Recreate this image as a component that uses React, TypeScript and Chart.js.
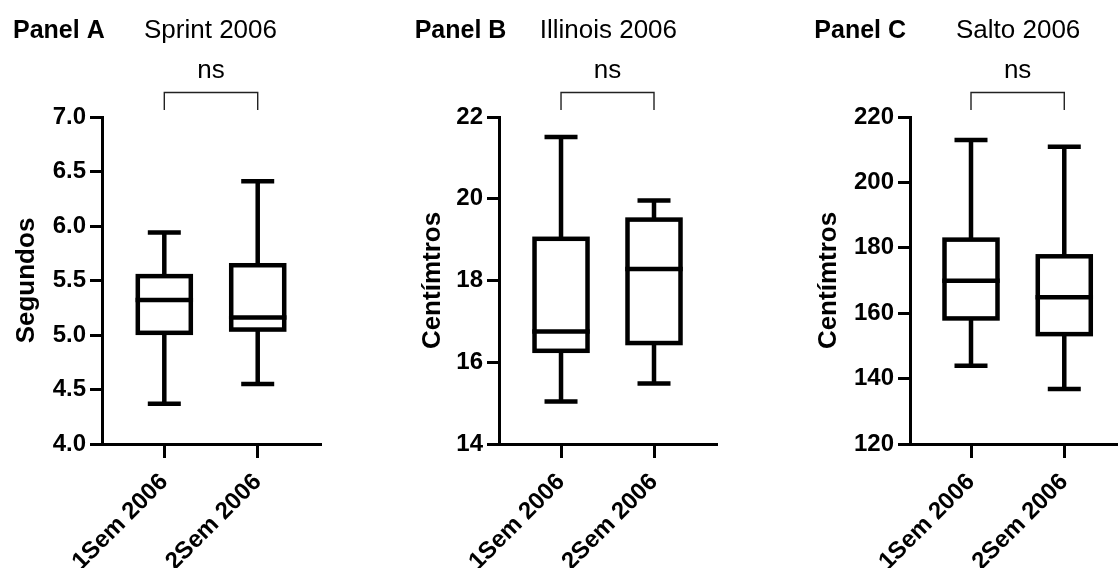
import React, { useEffect, useRef } from 'react';
import { Chart, registerables } from 'chart.js';

Chart.register(...registerables);

const FONT = "'Liberation Sans', Arial, Helvetica, sans-serif";

// ---- data ----
const categories = ['1Sem 2006', '2Sem 2006'];

// Panel A – Sprint 2006 (Segundos)
const sprintMin = [4.37, 4.55];
const sprintQ1 = [5.02, 5.05];
const sprintMedian = [5.32, 5.16];
const sprintQ3 = [5.54, 5.64];
const sprintMax = [5.94, 6.41];
const sprintTicks = [4.0, 4.5, 5.0, 5.5, 6.0, 6.5, 7.0];

// Panel B – Illinois 2006 (Centímtros)
const illinoisMin = [15.04, 15.48];
const illinoisQ1 = [16.28, 16.47];
const illinoisMedian = [16.75, 18.28];
const illinoisQ3 = [19.02, 19.49];
const illinoisMax = [21.51, 19.96];
const illinoisTicks = [14, 16, 18, 20, 22];

// Panel C – Salto 2006 (Centímtros)
const saltoMin = [143.9, 136.8];
const saltoQ1 = [158.4, 153.6];
const saltoMedian = [169.9, 164.9];
const saltoQ3 = [182.5, 177.4];
const saltoMax = [213.0, 210.9];
const saltoTicks = [120, 140, 160, 180, 200, 220];

const significance = 'ns';

type Spec = {
  id: string;
  panelLabel: string;
  title: string;
  yTitle: string;
  min: number[];
  q1: number[];
  median: number[];
  q3: number[];
  max: number[];
  ticks: number[];
  decimals: number;
  // layout
  left: number;
  width: number;
  yAxisWidth: number;
  padRight: number;
  xMin: number;
  xMax: number;
  panelLabelX: number;
  titleX: number;
  yTitleX: number;
};

const panels: Spec[] = [
  {
    id: 'A', panelLabel: 'Panel A', title: 'Sprint 2006', yTitle: 'Segundos',
    min: sprintMin, q1: sprintQ1, median: sprintMedian, q3: sprintQ3, max: sprintMax,
    ticks: sprintTicks, decimals: 1,
    left: 0, width: 373, yAxisWidth: 102, padRight: 51.3, xMin: -0.667, xMax: 1.685,
    panelLabelX: 13, titleX: 144, yTitleX: 34,
  },
  {
    id: 'B', panelLabel: 'Panel B', title: 'Illinois 2006', yTitle: 'Centímtros',
    min: illinoisMin, q1: illinoisQ1, median: illinoisMedian, q3: illinoisQ3, max: illinoisMax,
    ticks: illinoisTicks, decimals: 0,
    left: 373, width: 373, yAxisWidth: 126, padRight: 28.3, xMin: -0.667, xMax: 1.685,
    panelLabelX: 41.7, titleX: 166.7, yTitleX: 67,
  },
  {
    id: 'C', panelLabel: 'Panel C', title: 'Salto 2006', yTitle: 'Centímtros',
    min: saltoMin, q1: saltoQ1, median: saltoMedian, q3: saltoQ3, max: saltoMax,
    ticks: saltoTicks, decimals: 0,
    left: 746, width: 372, yAxisWidth: 164, padRight: 0, xMin: -0.654, xMax: 1.576,
    panelLabelX: 68.3, titleX: 210, yTitleX: 90,
  },
];

const HEIGHT = 568;
const PLOT_TOP = 117;
const PLOT_BOTTOM = 444;
const LW = 4.5;
const BOX_W = 53;
const CAP_W = 33;

function Panel({ spec }: { spec: Spec }) {
  const ref = useRef<HTMLCanvasElement | null>(null);

  useEffect(() => {
    if (!ref.current) return;

    const boxPlugin = {
      id: 'boxWhiskers' + spec.id,
      afterDatasetsDraw(chart: any) {
        const { ctx } = chart;
        const ys = chart.scales.y;
        const meta = chart.getDatasetMeta(0);
        ctx.save();
        ctx.strokeStyle = '#000';
        ctx.lineWidth = LW;
        ctx.lineCap = 'butt';
        meta.data.forEach((bar: any, i: number) => {
          const { x, y, base, width } = bar.getProps(['x', 'y', 'base', 'width'], true);
          const half = width / 2;
          const top = Math.min(y, base);
          const bottom = Math.max(y, base);
          const yMax = ys.getPixelForValue(spec.max[i]);
          const yMin = ys.getPixelForValue(spec.min[i]);
          const yMed = ys.getPixelForValue(spec.median[i]);
          ctx.beginPath();
          // whiskers
          ctx.moveTo(x, top);
          ctx.lineTo(x, yMax);
          ctx.moveTo(x, bottom);
          ctx.lineTo(x, yMin);
          // caps
          ctx.moveTo(x - CAP_W / 2, yMax);
          ctx.lineTo(x + CAP_W / 2, yMax);
          ctx.moveTo(x - CAP_W / 2, yMin);
          ctx.lineTo(x + CAP_W / 2, yMin);
          ctx.stroke();
          // box
          ctx.strokeRect(x - half, top, width, bottom - top);
          // median
          ctx.beginPath();
          ctx.moveTo(x - half - LW / 2, yMed);
          ctx.lineTo(x + half + LW / 2, yMed);
          ctx.stroke();
        });
        ctx.restore();
      },
    };

    const textPlugin = {
      id: 'panelText' + spec.id,
      afterDraw(chart: any) {
        const { ctx, chartArea } = chart;
        const xs = chart.scales.x;
        ctx.save();
        ctx.fillStyle = '#000';
        ctx.textBaseline = 'alphabetic';
        ctx.textAlign = 'left';
        ctx.font = `bold 25px ${FONT}`;
        ctx.fillText(spec.panelLabel, spec.panelLabelX, 38);
        ctx.font = `26px ${FONT}`;
        ctx.fillText(spec.title, spec.titleX, 38);

        // significance bracket
        const x0 = xs.getPixelForValue(0);
        const x1 = xs.getPixelForValue(1);
        const yTop = chartArea.top - 24.5;
        const yBot = chartArea.top - 7;
        ctx.strokeStyle = '#222';
        ctx.lineWidth = 1.4;
        ctx.beginPath();
        ctx.moveTo(x0, yBot);
        ctx.lineTo(x0, yTop);
        ctx.lineTo(x1, yTop);
        ctx.lineTo(x1, yBot);
        ctx.stroke();
        ctx.textAlign = 'center';
        ctx.font = `26px ${FONT}`;
        ctx.fillText(significance, (x0 + x1) / 2, 78);

        // y-axis title
        ctx.save();
        ctx.translate(spec.yTitleX, (chartArea.top + chartArea.bottom) / 2);
        ctx.rotate(-Math.PI / 2);
        ctx.textAlign = 'center';
        ctx.textBaseline = 'alphabetic';
        ctx.font = `bold 26px ${FONT}`;
        ctx.fillText(spec.yTitle, 0, 0);
        ctx.restore();
        ctx.restore();
      },
    };

    const chart = new Chart(ref.current, {
      type: 'bar',
      data: {
        datasets: [
          {
            data: categories.map((_, i) => ({ x: i, y: [spec.q1[i], spec.q3[i]] })) as any,
            backgroundColor: '#ffffff',
            borderWidth: 0,
            barThickness: BOX_W,
          },
        ],
      },
      options: {
        animation: false,
        responsive: true,
        maintainAspectRatio: false,
        layout: { padding: { top: PLOT_TOP, right: spec.padRight, left: 0, bottom: 0 } },
        plugins: {
          legend: { display: false },
          tooltip: { enabled: false },
          title: { display: false },
        },
        scales: {
          x: {
            type: 'linear',
            offset: false,
            min: spec.xMin,
            max: spec.xMax,
            afterBuildTicks: (s: any) => {
              s.ticks = categories.map((_, i) => ({ value: i }));
            },
            afterFit: (s: any) => {
              s.height = HEIGHT - PLOT_BOTTOM;
            },
            ticks: {
              callback: (v: any) => categories[v as number] ?? '',
              minRotation: 45,
              maxRotation: 45,
              autoSkip: false,
              color: '#000',
              padding: 10,
              font: { family: FONT, size: 24, weight: 'bold' },
            },
            grid: {
              display: true,
              offset: false,
              drawOnChartArea: false,
              drawTicks: true,
              tickLength: 14,
              tickWidth: 3,
              tickColor: '#000',
              color: '#000',
            },
            border: { display: true, color: '#000', width: 3 },
          },
          y: {
            type: 'linear',
            min: spec.ticks[0],
            max: spec.ticks[spec.ticks.length - 1],
            afterBuildTicks: (s: any) => {
              s.ticks = spec.ticks.map((v) => ({ value: v }));
            },
            afterFit: (s: any) => {
              s.width = spec.yAxisWidth;
            },
            ticks: {
              callback: (v: any) => Number(v).toFixed(spec.decimals),
              color: '#000',
              padding: 4,
              font: { family: FONT, size: 24, weight: 'bold' },
            },
            grid: {
              display: true,
              drawOnChartArea: false,
              drawTicks: true,
              tickLength: 12,
              tickWidth: 3,
              tickColor: '#000',
              color: '#000',
            },
            border: { display: true, color: '#000', width: 3 },
          },
        },
      } as any,
      plugins: [boxPlugin, textPlugin],
    });

    return () => chart.destroy();
  }, [spec]);

  return (
    <div
      style={{
        position: 'absolute',
        left: spec.left,
        top: 0,
        width: spec.width,
        height: HEIGHT,
      }}
    >
      <canvas ref={ref} />
    </div>
  );
}

export default function App() {
  return (
    <div
      style={{
        position: 'absolute',
        left: 0,
        top: 0,
        width: 1118,
        height: HEIGHT,
        overflow: 'hidden',
        background: '#fff',
      }}
    >
      {panels.map((p) => (
        <Panel key={p.id} spec={p} />
      ))}
    </div>
  );
}
